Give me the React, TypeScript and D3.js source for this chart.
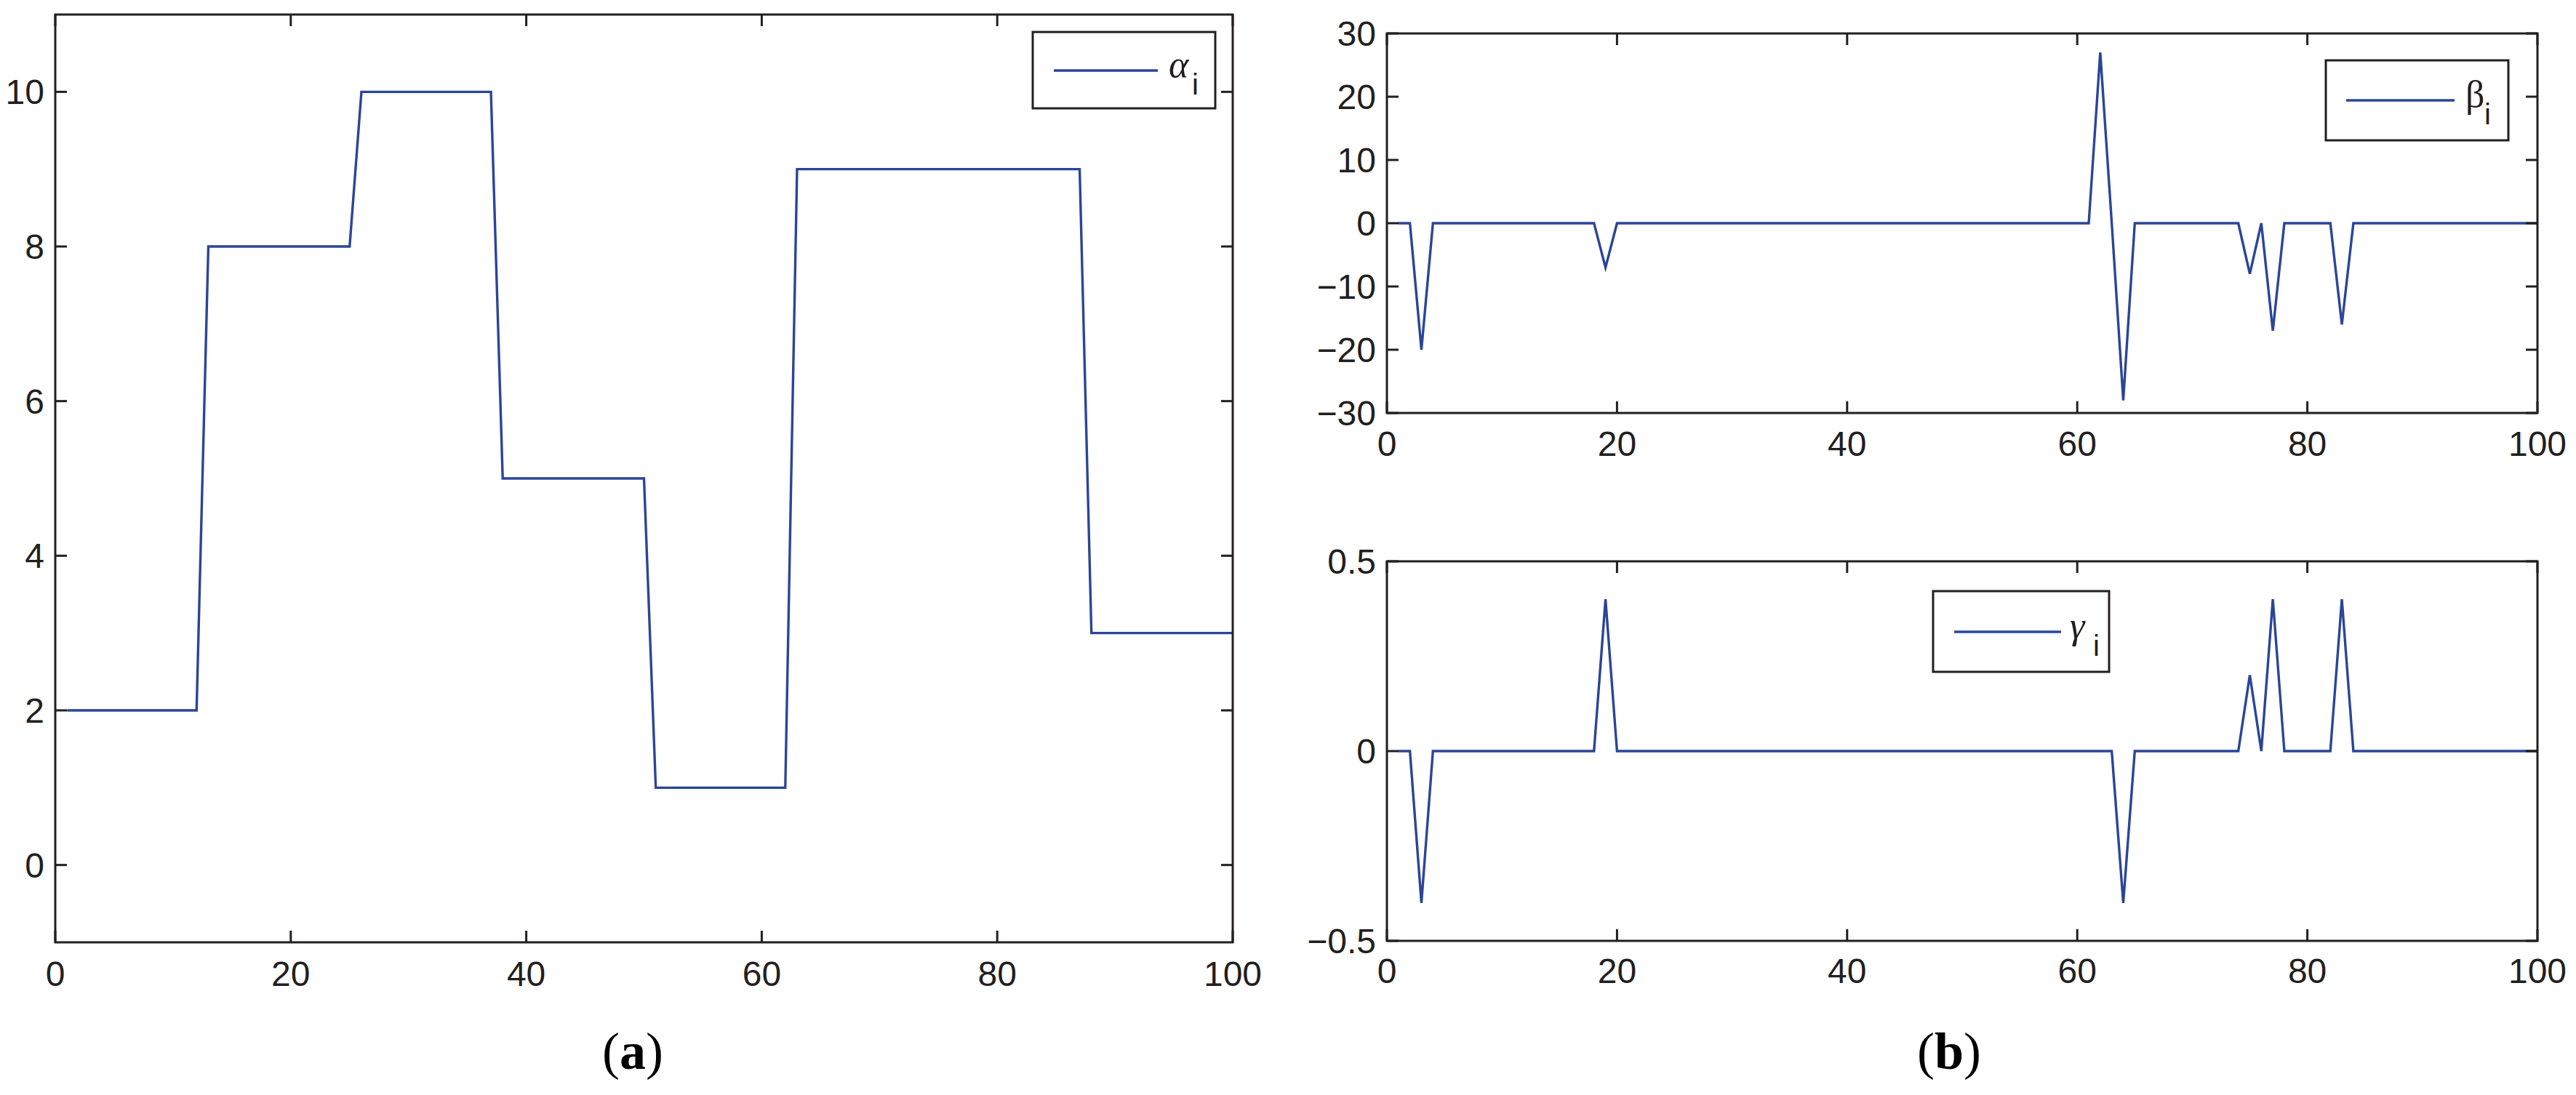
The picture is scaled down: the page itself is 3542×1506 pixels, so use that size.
import React from "react";
import * as d3 from "d3";

// ---------- data ----------
const xIndex: number[] = d3.range(1, 101);

// alpha: piecewise constant segments [startIndex, endIndex, value]
const alphaSegments: [number, number, number][] = [
  [1, 12, 2],
  [13, 25, 8],
  [26, 37, 10],
  [38, 50, 5],
  [51, 62, 1],
  [63, 87, 9],
  [88, 100, 3],
];
const alphaValues: number[] = xIndex.map((i) => {
  const s = alphaSegments.find((g) => i >= g[0] && i <= g[1]);
  return s ? s[2] : 0;
});

// beta: non-zero spikes (index -> value), zero elsewhere
const betaSpikes: [number, number][] = [
  [3, -20],
  [19, -7],
  [62, 27],
  [64, -28],
  [75, -8],
  [77, -17],
  [83, -16],
];
const betaValues: number[] = xIndex.map((i) => {
  const s = betaSpikes.find((g) => g[0] === i);
  return s ? s[1] : 0;
});

// gamma: non-zero spikes (index -> value)
const gammaSpikes: [number, number][] = [
  [3, -0.4],
  [19, 0.4],
  [64, -0.4],
  [75, 0.2],
  [77, 0.4],
  [83, 0.4],
];
const gammaValues: number[] = xIndex.map((i) => {
  const s = gammaSpikes.find((g) => g[0] === i);
  return s ? s[1] : 0;
});

const xTicks: number[] = [0, 20, 40, 60, 80, 100];
const alphaTicks: number[] = [0, 2, 4, 6, 8, 10];
const betaTicks: number[] = [-30, -20, -10, 0, 10, 20, 30];
const gammaTicks: number[] = [-0.5, 0, 0.5];

// ---------- style ----------
const LINE = "#2B4597";
const AX = "#231F20";
const TICK_FONT = "'Liberation Sans', Arial, Helvetica, sans-serif";
const GREEK_FONT = "'Liberation Serif', 'Times New Roman', serif";

const fmt = (v: number) => {
  const s = Number.isInteger(v) ? String(v) : String(v);
  return v < 0 ? "\u2212" + s.slice(1) : s;
};

type PanelProps = {
  left: number;
  right: number;
  top: number;
  bottom: number;
  yDomain: [number, number];
  yTicks: number[];
  values: number[];
  labelGap: number;
  legend: {
    x0: number;
    x1: number;
    y0: number;
    y1: number;
    lx0: number;
    lx1: number;
    ly: number;
    tx: number;
    tBase: number;
    sBase: number;
    greek: string;
    italic: boolean;
  };
};

function Panel(p: PanelProps) {
  const x = d3.scaleLinear().domain([0, 100]).range([p.left, p.right]);
  const y = d3.scaleLinear().domain(p.yDomain).range([p.bottom, p.top]);
  const line = d3
    .line<number>()
    .x((_, i) => x(xIndex[i]))
    .y((d) => y(d));
  const tl = 16;
  const L = p.legend;
  return (
    <g>
      <path
        d={line(p.values) || ""}
        fill="none"
        stroke={LINE}
        strokeWidth={3.4}
        strokeLinejoin="miter"
      />
      {/* ticks */}
      {xTicks.map((t) => (
        <g key={"x" + t}>
          <line x1={x(t)} x2={x(t)} y1={p.bottom} y2={p.bottom - tl} stroke={AX} strokeWidth={3} />
          <line x1={x(t)} x2={x(t)} y1={p.top} y2={p.top + tl} stroke={AX} strokeWidth={3} />
          <text
            x={x(t)}
            y={p.bottom + p.labelGap}
            fontFamily={TICK_FONT}
            fontSize={48}
            textAnchor="middle"
            fill={AX}
          >
            {fmt(t)}
          </text>
        </g>
      ))}
      {p.yTicks.map((t) => (
        <g key={"y" + t}>
          <line x1={p.left} x2={p.left + tl} y1={y(t)} y2={y(t)} stroke={AX} strokeWidth={3} />
          <line x1={p.right} x2={p.right - tl} y1={y(t)} y2={y(t)} stroke={AX} strokeWidth={3} />
          <text
            x={p.left - 15}
            y={y(t) + 17}
            fontFamily={TICK_FONT}
            fontSize={48}
            textAnchor="end"
            fill={AX}
          >
            {fmt(t)}
          </text>
        </g>
      ))}
      <rect
        x={p.left}
        y={p.top}
        width={p.right - p.left}
        height={p.bottom - p.top}
        fill="none"
        stroke={AX}
        strokeWidth={3}
      />
      {/* legend */}
      <rect
        x={L.x0}
        y={L.y0}
        width={L.x1 - L.x0}
        height={L.y1 - L.y0}
        fill="#fff"
        stroke={AX}
        strokeWidth={3}
      />
      <line x1={L.lx0} x2={L.lx1} y1={L.ly} y2={L.ly} stroke={LINE} strokeWidth={3.4} />
      <text
        x={L.tx}
        y={L.tBase}
        fontFamily={GREEK_FONT}
        fontStyle={L.italic ? "italic" : "normal"}
        fontSize={52}
        fill={AX}
      >
        {L.greek}
      </text>
      <text
        x={L.tx + (L.greek === "\u03b2" ? 26 : 32)}
        y={L.sBase}
        fontFamily={TICK_FONT}
        fontSize={40}
        fill={AX}
      >
        i
      </text>
    </g>
  );
}

export default function App() {
  return (
    <svg
      width={3542}
      height={1506}
      style={{ position: "absolute", left: 0, top: 0, background: "#fff" }}
    >
      <rect x={0} y={0} width={3542} height={1506} fill="#fff" />
      <Panel
        left={76}
        right={1695}
        top={20}
        bottom={1296}
        yDomain={[-1, 11]}
        yTicks={alphaTicks}
        values={alphaValues}
        labelGap={60}
        legend={{
          x0: 1420,
          x1: 1671,
          y0: 44,
          y1: 149,
          lx0: 1449,
          lx1: 1592,
          ly: 97,
          tx: 1607,
          tBase: 106,
          sBase: 130,
          greek: "\u03b1",
          italic: true,
        }}
      />
      <Panel
        left={1907}
        right={3489}
        top={46}
        bottom={568}
        yDomain={[-30, 30]}
        yTicks={betaTicks}
        values={betaValues}
        labelGap={59}
        legend={{
          x0: 3198,
          x1: 3449,
          y0: 83,
          y1: 193,
          lx0: 3226,
          lx1: 3375,
          ly: 138,
          tx: 3390,
          tBase: 147,
          sBase: 171,
          greek: "\u03b2",
          italic: false,
        }}
      />
      <Panel
        left={1907}
        right={3489}
        top={772}
        bottom={1294}
        yDomain={[-0.5, 0.5]}
        yTicks={gammaTicks}
        values={gammaValues}
        labelGap={58}
        legend={{
          x0: 2658,
          x1: 2900,
          y0: 813,
          y1: 924,
          lx0: 2687,
          lx1: 2834,
          ly: 869,
          tx: 2846,
          tBase: 878,
          sBase: 902,
          greek: "\u03b3",
          italic: true,
        }}
      />
      <text
        x={870}
        y={1470}
        fontFamily={GREEK_FONT}
        fontSize={72}
        textAnchor="middle"
        fill="#000"
      >
        (<tspan fontWeight="bold">a</tspan>)
      </text>
      <text
        x={2680}
        y={1470}
        fontFamily={GREEK_FONT}
        fontSize={72}
        textAnchor="middle"
        fill="#000"
      >
        (<tspan fontWeight="bold">b</tspan>)
      </text>
    </svg>
  );
}
